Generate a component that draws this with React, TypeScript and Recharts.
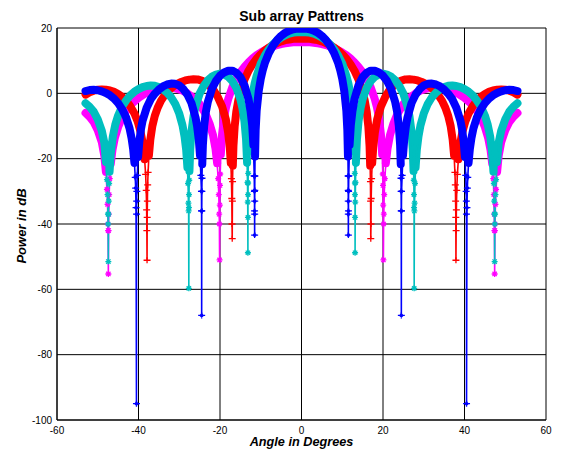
import React from 'react';
import { LineChart, Line, XAxis, YAxis, CartesianGrid } from 'recharts';

type P = [number, number];

// Angle (deg), Power (dB)
const magentaPoints: P[] = [
  [-53,-6.0],[-52,-7.2],[-51,-8.8],[-50,-11.3],[-49,-15],[-48.4,-19],[-48,-24],[-47.75,-29.4],[-47.6,-34],[-47.5,-40],[-47.45,-42],[-47.4,-55.3],
  [-47.35,-42],[-47.3,-37],[-47.2,-31],[-47.05,-26.1],[-46.8,-21.6],[-46.4,-17.4],[-45.8,-13.6],[-45,-10.3],[-44,-7.4],[-43,-5.3],[-41.5,-3.0],[-40,-1.4],
  [-38.5,-0.2],[-37,0.7],[-35.5,1.35],[-34,1.7],[-32.5,1.8],[-31,1.6],[-29.5,1.0],[-28,0.0],[-26.5,-1.4],[-25,-3.3],[-23.5,-6.4],[-22.5,-9.5],[-21.7,-12.9],
  [-21.1,-17.0],[-20.7,-21.4],[-20.45,-26.1],[-20.3,-31],[-20.2,-37],[-20.15,-40],[-20.1,-51],[-20.05,-34.2],[-20,-28.2],[-19.95,-24.7],[-19.8,-18.7],
  [-19.5,-12.7],[-19,-7.4],[-18.5,-4.2],[-18,-1.8],[-17,1.8],[-16,4.45],[-15,6.5],[-14,8.1],[-13,9.5],[-12,10.7],[-11,11.7],[-10,12.5],[-9,13.2],
  [-8,13.85],[-7,14.35],[-6,14.8],[-5,15.1],[-4,15.3],[-3,15.5],[-2,15.6],[-1,15.6],
  [0,15.6],[1,15.6],[2,15.6],[3,15.5],[4,15.3],[5,15.1],[6,14.8],[7,14.35],[8,13.85],[9,13.2],[10,12.5],[11,11.7],[12,10.7],[13,9.5],[14,8.1],[15,6.5],
  [16,4.45],[17,1.8],[18,-1.8],[18.5,-4.2],[19,-7.4],[19.5,-12.7],[19.8,-18.7],[19.95,-24.7],[20,-28.2],[20.05,-34.2],[20.1,-51],[20.15,-40],[20.2,-37],
  [20.3,-31],[20.45,-26.1],[20.7,-21.4],[21.1,-17.0],[21.7,-12.9],[22.5,-9.5],[23.5,-6.4],[25,-3.3],[26.5,-1.4],[28,0.0],[29.5,1.0],[31,1.6],[32.5,1.8],
  [34,1.7],[35.5,1.35],[37,0.7],[38.5,-0.2],[40,-1.4],[41.5,-3.0],[43,-5.3],[44,-7.4],[45,-10.3],[45.8,-13.6],[46.4,-17.4],[46.8,-21.6],[47.05,-26.1],
  [47.2,-31],[47.3,-37],[47.35,-42],[47.4,-55.3],[47.45,-42],[47.5,-40],[47.6,-34],[47.75,-29.4],[48,-24],[48.4,-19],[49,-15],[50,-11.3],[51,-8.8],
  [52,-7.2],[53,-6.0],
];

const redPoints: P[] = [
  [-53,-0.4],[-52,0.3],[-51,0.8],[-50,1.1],[-49,1.2],[-48,1.13],[-47,0.9],[-46,0.45],[-45,-0.2],[-44,-1.1],[-43,-2.3],[-42,-4.0],[-41,-6.2],[-40.2,-8.6],
  [-39.5,-11.7],[-38.9,-15.7],[-38.5,-20.2],[-38.25,-24.8],[-38.1,-29.7],[-38,-35.7],[-37.95,-42],[-37.9,-51.1],[-37.87,-38],[-37.82,-33],[-37.75,-28],
  [-37.65,-24.2],[-37.45,-19.1],[-37.1,-14.2],[-36.6,-10.0],[-36,-6.9],[-35.3,-4.4],[-34.5,-2.3],[-33.5,-0.4],[-32.5,1.0],[-31.5,2.1],[-30.5,2.9],
  [-29.5,3.5],[-28.5,3.95],[-27.5,4.2],[-26.5,4.3],[-25.5,4.25],[-24.5,3.9],[-23.5,3.2],[-22.5,2.2],[-21.5,0.8],[-20.5,-1.2],[-19.5,-4.0],[-18.6,-7.8],
  [-18,-12.0],[-17.6,-16.6],[-17.35,-21.3],[-17.2,-26.1],[-17.1,-32.2],[-17.05,-40],[-17,-44.5],[-16.96,-33],[-16.92,-27],[-16.85,-22.1],[-16.7,-16.1],
  [-16.4,-10.1],[-16,-5.6],[-15.5,-2.1],[-15,0.4],[-14,4.2],[-13,6.9],[-12,8.95],[-11,10.6],[-10,12.0],[-9,13.1],[-8,14.0],[-7,14.8],[-6,15.4],
  [-5,15.9],[-4,16.3],[-3,16.5],[-2,16.7],[-1,16.7],
  [0,16.7],[1,16.7],[2,16.7],[3,16.5],[4,16.3],[5,15.9],[6,15.4],[7,14.8],[8,14.0],[9,13.1],[10,12.0],[11,10.6],[12,8.95],[13,6.9],[14,4.2],[15,0.4],
  [15.5,-2.1],[16,-5.6],[16.4,-10.1],[16.7,-16.1],[16.85,-22.1],[16.92,-27],[16.96,-33],[17,-44.5],[17.05,-40],[17.1,-32.2],[17.2,-26.1],[17.35,-21.3],
  [17.6,-16.6],[18,-12.0],[18.6,-7.8],[19.5,-4.0],[20.5,-1.2],[21.5,0.8],[22.5,2.2],[23.5,3.2],[24.5,3.9],[25.5,4.25],[26.5,4.3],[27.5,4.2],[28.5,3.95],
  [29.5,3.5],[30.5,2.9],[31.5,2.1],[32.5,1.0],[33.5,-0.4],[34.5,-2.3],[35.3,-4.4],[36,-6.9],[36.6,-10.0],[37.1,-14.2],[37.45,-19.1],[37.65,-24.2],
  [37.75,-28],[37.82,-33],[37.87,-38],[37.9,-51.1],[37.95,-42],[38,-35.7],[38.1,-29.7],[38.25,-24.8],[38.5,-20.2],[38.9,-15.7],[39.5,-11.7],[40.2,-8.6],
  [41,-6.2],[42,-4.0],[43,-2.3],[44,-1.1],[45,-0.2],[46,0.45],[47,0.9],[48,1.13],[49,1.2],[50,1.1],[51,0.8],[52,0.3],[53,-0.4],
];

const cyanPoints: P[] = [
  [-53,-3.0],[-52,-4.1],[-51,-5.6],[-50,-8.0],[-49,-11.5],[-48.4,-15],[-48,-21],[-47.75,-26.4],[-47.6,-31],[-47.5,-37],[-47.45,-40],[-47.4,-51.5],
  [-47.35,-37],[-47.3,-33],[-47.2,-27.6],[-47.1,-24.0],[-46.8,-18.3],[-46.3,-13.2],[-45.7,-9.6],[-45,-6.8],[-44,-4.0],[-43,-2.1],[-42,-0.6],[-41,0.5],
  [-40,1.3],[-39,1.9],[-38,2.25],[-37,2.4],[-36,2.3],[-35,1.9],[-34,1.2],[-33,0.2],[-32,-1.2],[-31,-3.2],[-30,-6.2],[-29.2,-9.8],[-28.7,-13.2],
  [-28.3,-17.3],[-28,-22.7],[-27.85,-27.6],[-27.75,-33.6],[-27.7,-36],[-27.65,-59.7],[-27.62,-35],[-27.6,-31],[-27.55,-26.6],[-27.5,-23.8],[-27.3,-17.0],
  [-27,-11.8],[-26.5,-7.0],[-26,-4.0],[-25,-0.1],[-24,2.3],[-23,4.0],[-22,5.1],[-21,5.7],[-20,6.0],[-19,5.8],[-18,5.1],[-17,3.8],[-16,1.7],[-15,-1.8],
  [-14.5,-4.5],[-14,-8.5],[-13.6,-14.2],[-13.35,-21.3],[-13.25,-27.3],[-13.2,-33.3],[-13.15,-48.8],[-13.14,-38],[-13.12,-31],[-13.1,-27.5],[-13.08,-24.5],
  [-13,-17.9],[-12.8,-10.5],[-12.5,-5.2],[-12,-0.2],[-11.5,3.0],[-11,5.4],[-10,9.1],[-9,11.6],[-8,13.5],[-7,15.0],[-6,16.2],[-5,17.1],[-4,17.8],
  [-3,18.3],[-2,18.6],[-1,18.7],
  [0,18.7],[1,18.7],[2,18.6],[3,18.3],[4,17.8],[5,17.1],[6,16.2],[7,15.0],[8,13.5],[9,11.6],[10,9.1],[11,5.4],[11.5,3.0],[12,-0.2],[12.5,-5.2],
  [12.8,-10.5],[13,-17.9],[13.08,-24.5],[13.1,-27.5],[13.12,-31],[13.14,-38],[13.15,-48.8],[13.2,-33.3],[13.25,-27.3],[13.35,-21.3],[13.6,-14.2],
  [14,-8.5],[14.5,-4.5],[15,-1.8],[16,1.7],[17,3.8],[18,5.1],[19,5.8],[20,6.0],[21,5.7],[22,5.1],[23,4.0],[24,2.3],[25,-0.1],[26,-4.0],[26.5,-7.0],
  [27,-11.8],[27.3,-17.0],[27.5,-23.8],[27.55,-26.6],[27.6,-31],[27.62,-35],[27.65,-59.7],[27.7,-36],[27.75,-33.6],[27.85,-27.6],[28,-22.7],[28.3,-17.3],
  [28.7,-13.2],[29.2,-9.8],[30,-6.2],[31,-3.2],[32,-1.2],[33,0.2],[34,1.2],[35,1.9],[36,2.3],[37,2.4],[38,2.25],[39,1.9],[40,1.3],[41,0.5],[42,-0.6],
  [43,-2.1],[44,-4.0],[45,-6.8],[45.7,-9.6],[46.3,-13.2],[46.8,-18.3],[47.1,-24.0],[47.2,-27.6],[47.3,-33],[47.35,-37],[47.4,-51.5],[47.45,-40],
  [47.5,-37],[47.6,-31],[47.75,-26.4],[48,-21],[48.4,-15],[49,-11.5],[50,-8.0],[51,-5.6],[52,-4.1],[53,-3.0],
];

const bluePoints: P[] = [
  [-53,0.7],[-52,1.0],[-51,1.07],[-50,0.95],[-49,0.6],[-48,0.1],[-47,-0.6],[-46,-1.6],[-45,-3.0],[-44,-4.9],[-43,-7.5],[-42.2,-10.7],[-41.7,-13.7],
  [-41.3,-17.2],[-41,-21.3],[-40.8,-25.7],[-40.7,-29],[-40.6,-35],[-40.5,-95],[-40.48,-37],[-40.45,-33],[-40.4,-30],[-40.3,-25.1],[-40.1,-19.5],
  [-39.8,-14.8],[-39.4,-11.0],[-39,-8.4],[-38,-4.4],[-37,-1.8],[-36,-0.1],[-35,1.2],[-34,2.1],[-33,2.7],[-32,3.0],[-31,2.9],[-30,2.4],[-29,1.3],
  [-28,-0.4],[-27,-3.0],[-26,-7.4],[-25.6,-10.2],[-25.2,-14.3],[-24.9,-19.1],[-24.7,-25.1],[-24.55,-30],[-24.52,-36],[-24.5,-68],[-24.48,-36],
  [-24.45,-30],[-24.42,-26],[-24.35,-21.7],[-24.2,-15.8],[-23.9,-10.2],[-23.5,-5.9],[-23,-2.7],[-22,1.3],[-21,3.8],[-20,5.4],[-19,6.4],[-18,6.9],
  [-17,6.95],[-16,6.3],[-15,5.0],[-14,2.5],[-13,-1.8],[-12.5,-5.4],[-12.1,-9.8],[-11.8,-15.8],[-11.6,-25.3],[-11.55,-30],[-11.52,-36],[-11.5,-43.4],
  [-11.49,-37],[-11.48,-33],[-11.47,-29.7],[-11.45,-25.3],[-11.4,-19.3],[-11.25,-11.3],[-11,-5.3],[-10.5,0.7],[-10,4.45],[-9.5,7.1],[-9,9.25],
  [-8,12.35],[-7,14.6],[-6,16.3],[-5,17.6],[-4,18.55],[-3,19.2],[-2,19.6],[-1,19.8],
  [0,19.8],[1,19.8],[2,19.6],[3,19.2],[4,18.55],[5,17.6],[6,16.3],[7,14.6],[8,12.35],[9,9.25],[9.5,7.1],[10,4.45],[10.5,0.7],[11,-5.3],[11.25,-11.3],
  [11.4,-19.3],[11.45,-25.3],[11.47,-29.7],[11.48,-33],[11.49,-37],[11.5,-43.4],[11.52,-36],[11.55,-30],[11.6,-25.3],[11.8,-15.8],[12.1,-9.8],
  [12.5,-5.4],[13,-1.8],[14,2.5],[15,5.0],[16,6.3],[17,6.95],[18,6.9],[19,6.4],[20,5.4],[21,3.8],[22,1.3],[23,-2.7],[23.5,-5.9],[23.9,-10.2],
  [24.2,-15.8],[24.35,-21.7],[24.42,-26],[24.45,-30],[24.48,-36],[24.5,-68],[24.52,-36],[24.55,-30],[24.7,-25.1],[24.9,-19.1],[25.2,-14.3],
  [25.6,-10.2],[26,-7.4],[27,-3.0],[28,-0.4],[29,1.3],[30,2.4],[31,2.9],[32,3.0],[33,2.7],[34,2.1],[35,1.2],[36,-0.1],[37,-1.8],[38,-4.4],[39,-8.4],
  [39.4,-11.0],[39.8,-14.8],[40.1,-19.5],[40.3,-25.1],[40.4,-30],[40.45,-33],[40.48,-37],[40.5,-95],[40.6,-35],[40.7,-29],[40.8,-25.7],[41,-21.3],
  [41.3,-17.2],[41.7,-13.7],[42.2,-10.7],[43,-7.5],[44,-4.9],[45,-3.0],[46,-1.6],[47,-0.6],[48,0.1],[49,0.6],[50,0.95],[51,1.07],[52,1.0],[53,0.7],
];

const xTicks = [-60, -40, -20, 0, 20, 40, 60];
const yTicks = [-100, -80, -60, -40, -20, 0, 20];

const BAND_MIN = -24;
const FONT = "'Liberation Sans', Arial, Helvetica, sans-serif";

const full = (pts: P[]) => pts.map(([x, y]) => ({ x, y }));
const band = (pts: P[]) => pts.map(([x, y]) => ({ x, y: y >= BAND_MIN ? y : null }));

type Kind = 'star' | 'plus' | 'cross4';

const makeMarker = (kind: Kind, color: string, id: string) => (props: any) => {
  const { cx, cy, payload, index } = props;
  const key = `${id}-${index}`;
  if (cx == null || cy == null || payload == null || payload.y == null || payload.y >= BAND_MIN) return <g key={key} />;
  const r = 3;
  const k = r * 0.72;
  let d = '';
  let fill = 'none';
  if (kind === 'star') {
    d = `M${cx - r},${cy}H${cx + r}M${cx},${cy - r}V${cy + r}M${cx - k},${cy - k}L${cx + k},${cy + k}M${cx - k},${cy + k}L${cx + k},${cy - k}`;
  } else if (kind === 'plus') {
    d = `M${cx - r - 0.5},${cy}H${cx + r + 0.5}M${cx},${cy - r}V${cy + r}`;
  } else {
    d = `M${cx - r - 0.5},${cy}H${cx + r + 0.5}M${cx},${cy - r}V${cy + r}M${cx - 1.6},${cy}L${cx},${cy - 1.6}L${cx + 1.6},${cy}L${cx},${cy + 1.6}Z`;
    fill = color;
  }
  return <path key={key} d={d} stroke={color} strokeWidth={1.3} fill={fill} />;
};

const series = [
  { id: 'magenta', pts: magentaPoints, color: '#FF00FF', kind: 'star' as Kind },
  { id: 'red', pts: redPoints, color: '#FF0000', kind: 'plus' as Kind },
  { id: 'cyan', pts: cyanPoints, color: '#00BFBF', kind: 'star' as Kind },
  { id: 'blue', pts: bluePoints, color: '#0000FF', kind: 'cross4' as Kind },
];

export default function App() {
  return (
    <div style={{ position: 'absolute', left: 0, top: 0, width: 568, height: 450, background: '#fff', fontFamily: FONT }}>
      <LineChart width={568} height={450} margin={{ top: 28, right: 22, bottom: 0, left: 12 }}>
        <CartesianGrid stroke="#000" strokeWidth={1} />
        <XAxis
          type="number"
          dataKey="x"
          domain={[-60, 60]}
          ticks={xTicks}
          allowDataOverflow
          height={30}
          tickLine={false}
          tickSize={5}
          tickMargin={2}
          axisLine={{ stroke: '#000' }}
          tick={{ fill: '#000', fontSize: 10, fontFamily: FONT }}
        />
        <YAxis
          type="number"
          dataKey="y"
          domain={[-100, 20]}
          ticks={yTicks}
          allowDataOverflow
          width={45}
          tickLine={false}
          tickSize={3}
          tickMargin={2}
          axisLine={{ stroke: '#000' }}
          tick={{ fill: '#000', fontSize: 10, fontFamily: FONT }}
        />
        {series.flatMap((s) => [
          <Line
            key={`${s.id}-band`}
            data={band(s.pts)}
            dataKey="y"
            type="linear"
            stroke={s.color}
            strokeWidth={8}
            strokeLinecap="round"
            strokeLinejoin="round"
            dot={false}
            activeDot={false}
            connectNulls={false}
            isAnimationActive={false}
            legendType="none"
          />,
          <Line
            key={`${s.id}-thin`}
            data={full(s.pts)}
            dataKey="y"
            type="linear"
            stroke={s.color}
            strokeWidth={1.6}
            dot={makeMarker(s.kind, s.color, s.id)}
            activeDot={false}
            isAnimationActive={false}
            legendType="none"
          />,
        ])}
      </LineChart>
      <div style={{ position: 'absolute', left: 57, width: 489, top: 8, textAlign: 'center', fontWeight: 'bold', fontSize: 14, lineHeight: '16px', color: '#000' }}>
        Sub array Pattrens
      </div>
      <div style={{ position: 'absolute', left: 57, width: 489, top: 435, textAlign: 'center', fontWeight: 'bold', fontStyle: 'italic', fontSize: 12.7, lineHeight: '14px', color: '#000' }}>
        Angle in Degrees
      </div>
      <div style={{ position: 'absolute', left: 22, top: 226, transform: 'translate(-50%, -50%) rotate(-90deg)', whiteSpace: 'nowrap', fontWeight: 'bold', fontStyle: 'italic', fontSize: 13, lineHeight: '14px', color: '#000' }}>
        Power in dB
      </div>
    </div>
  );
}
